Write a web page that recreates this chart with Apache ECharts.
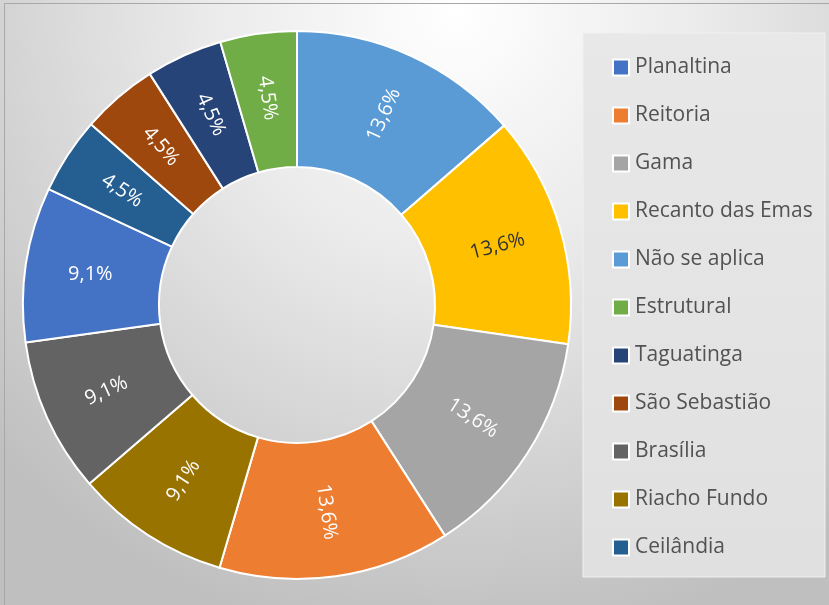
<!DOCTYPE html>
<html>
<head>
<meta charset="utf-8">
<script src="https://cdn.jsdelivr.net/npm/echarts@6/dist/echarts.min.js"></script>
<style>
  html, body { margin: 0; padding: 0; }
  #chart { width: 829px; height: 605px; }
</style>
</head>
<body>
<div id="chart"></div>
<script>
// Slices, clockwise from 12 o'clock
const categories = ['Não se aplica', 'Recanto das Emas', 'Gama', 'Reitoria', 'Riacho Fundo',
  'Brasília', 'Planaltina', 'Ceilândia', 'São Sebastião', 'Taguatinga', 'Estrutural'];
const values = [13.6, 13.6, 13.6, 13.6, 9.1, 9.1, 9.1, 4.5, 4.5, 4.5, 4.5];
const colors = ['#5B9BD5', '#FFC000', '#A5A5A5', '#ED7D31', '#997300',
  '#636363', '#4472C4', '#255E91', '#9E480E', '#264478', '#70AD47'];
// Legend order
const legendOrder = ['Planaltina', 'Reitoria', 'Gama', 'Recanto das Emas', 'Não se aplica',
  'Estrutural', 'Taguatinga', 'São Sebastião', 'Brasília', 'Riacho Fundo', 'Ceilândia'];

const FONT = '"Open Sans", "Noto Sans", sans-serif';

// Per-slice label tweaks (most labels follow the radius)
const labelOverrides = {
  'Recanto das Emas': { rotate: 15, color: '#333333' },
  'Planaltina': { rotate: 0 }
};

const data = categories.map((name, i) => {
  const item = { name: name, value: values[i], itemStyle: { color: colors[i] } };
  if (labelOverrides[name]) item.label = labelOverrides[name];
  return item;
});

const chart = echarts.init(document.getElementById('chart'));
chart.setOption({
  backgroundColor: {
    type: 'radial', x: 0.55, y: 0.02, r: 1.05,
    colorStops: [
      { offset: 0, color: '#ffffff' },
      { offset: 0.4, color: '#eaeaea' },
      { offset: 1, color: '#bfbfbf' }
    ]
  },
  animation: false,
  graphic: [
    {
      type: 'rect', silent: true, z: 0,
      shape: { x: 4.5, y: 3.5, width: 840, height: 620 },
      style: { fill: null, stroke: '#a8a8a8', lineWidth: 1 }
    },
    {
      type: 'rect', silent: true, z: 0,
      shape: { x: 583, y: 33, width: 242, height: 544 },
      style: {
        fill: {
          type: 'linear', x: 0, y: 0, x2: 0, y2: 1,
          colorStops: [{ offset: 0, color: '#e8e8e8' }, { offset: 1, color: '#e0e0e0' }]
        },
        stroke: '#f0f0f0', lineWidth: 1
      }
    }
  ],
  legend: {
    orient: 'vertical',
    left: 607,
    top: 52,
    data: legendOrder,
    icon: 'rect',
    itemWidth: 16,
    itemHeight: 16,
    itemGap: 27,
    textStyle: {
      fontFamily: FONT, fontSize: 21, color: '#525252',
      lineHeight: 16, padding: [0, 0, 0, 1]
    }
  },
  series: [{
    type: 'pie',
    center: [297, 305],
    radius: [138, 274],
    startAngle: 90,
    clockwise: true,
    avoidLabelOverlap: false,
    itemStyle: { borderColor: '#ffffff', borderWidth: 2 },
    label: {
      show: true,
      position: 'inside',
      rotate: 'radial',
      color: '#ffffff',
      fontFamily: FONT,
      fontSize: 20,
      formatter: p => p.value.toFixed(1).replace('.', ',') + '%'
    },
    labelLine: { show: false },
    emphasis: { disabled: true },
    data: data
  }]
});
</script>
</body>
</html>
